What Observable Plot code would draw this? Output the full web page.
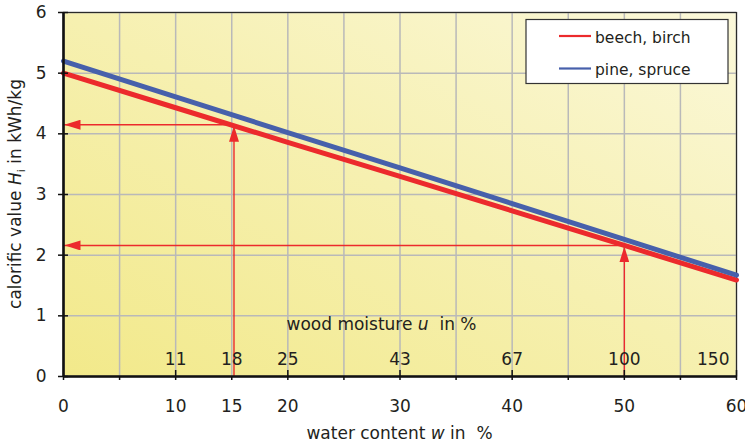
<!DOCTYPE html>
<html><head><meta charset="utf-8">
<script src="https://cdn.jsdelivr.net/npm/d3@7"></script>
<script src="https://cdn.jsdelivr.net/npm/@observablehq/plot@0.6"></script>
<style>
html,body{margin:0;padding:0;background:#fff;}
body{font-family:"DejaVu Sans",Verdana,sans-serif;}
</style>
</head><body><div id="chart"></div>
<script>
// ---- data ----
const waterContent = [0, 10, 20, 30, 40, 50, 60];
const beechBirch   = [5.00, 4.43, 3.86, 3.30, 2.73, 2.16, 1.59];
const pineSpruce   = [5.20, 4.61, 4.02, 3.44, 2.85, 2.26, 1.67];
const seriesNames  = ["beech, birch", "pine, spruce"];
const seriesColors = ["#ec2a2c", "#4760ab"];
const xTickLabels  = [0, 10, 15, 20, 30, 40, 50, 60];
const xMinorTicks  = [0, 5, 10, 15, 20, 25, 30, 35, 40, 45, 50, 55, 60];
const xMajorTicks  = [10, 20, 30, 40, 50, 60];
const yTicks       = [0, 1, 2, 3, 4, 5, 6];
const moistureAtW  = [10, 15, 20, 30, 40, 50];
const moistureText = ["11", "18", "25", "43", "67", "100"];
const moistureLastW = [60];
const moistureLastText = ["150"];
const readingW     = [15.2, 50];
const readingH     = [4.15, 2.16];

const rows = [];
waterContent.forEach((w, i) => {
  rows.push({w, h: beechBirch[i], s: seriesNames[0]});
  rows.push({w, h: pineSpruce[i], s: seriesNames[1]});
});
const readings = readingW.map((w, i) => ({w, h: readingH[i]}));
const moisture = moistureAtW.map((w, i) => ({w, t: moistureText[i]}));
const moistureLast = moistureLastW.map((w, i) => ({w, t: moistureLastText[i]}));

const FONT = "DejaVu Sans, Verdana, sans-serif";
const INK = "#231f20";
const RED = "#ec2a2c";

const plot = Plot.plot({
  width: 745,
  height: 445,
  marginLeft: 63,
  marginRight: 9,
  marginTop: 12,
  marginBottom: 69,
  style: {fontFamily: FONT, color: INK, background: "white"},
  x: {domain: [0, 60], label: null},
  y: {domain: [0, 6], label: null},
  color: {domain: seriesNames, range: seriesColors},
  marks: [
    Plot.frame({fill: "url(#bgGrad)", stroke: null}),
    Plot.gridX(xMinorTicks, {stroke: "#b9b9b9", strokeOpacity: 1, strokeWidth: 1.5}),
    Plot.gridY(yTicks, {stroke: "#b9b9b9", strokeOpacity: 1, strokeWidth: 1.5}),
    Plot.frame({stroke: "#2a2a2a", strokeWidth: 1.2}),
    Plot.link(readings, {x1: "w", y1: 0, x2: "w", y2: "h", stroke: RED, strokeWidth: 1.4}),
    Plot.link(readings, {x1: "w", y1: "h", x2: 0, y2: "h", stroke: RED, strokeWidth: 1.4}),
    Plot.line(rows, {x: "w", y: "h", z: "s", stroke: "s", strokeWidth: 5}),
    Plot.text(moisture, {x: "w", y: 0, text: "t", dy: -17, fontSize: 17, fill: INK}),
    Plot.text(moistureLast, {x: "w", y: 0, text: "t", dy: -17, dx: -7, textAnchor: "end", fontSize: 17, fill: INK}),
    Plot.ruleX([0], {stroke: "#111", strokeWidth: 2.6}),
    Plot.ruleY([0], {stroke: "#111", strokeWidth: 2.6}),
    Plot.axisX(xMinorTicks, {tickSize: 4, tickFormat: () => "", stroke: "#111", strokeWidth: 1.5, label: null}),
    Plot.axisX(xMajorTicks, {tickSize: -6, tickFormat: () => "", stroke: "#111", strokeWidth: 1.5, label: null}),
    Plot.axisX(xTickLabels, {tickSize: 0, tickPadding: 23, fontSize: 17, fill: INK, tickFormat: d => String(d), label: null}),
    Plot.axisY(yTicks, {tickSize: 5, tickPadding: 12, fontSize: 17, fill: INK, stroke: "#111", strokeWidth: 1.5, tickFormat: d => String(d), label: null}),
    Plot.axisY(yTicks, {tickSize: -5, tickFormat: () => "", stroke: "#111", strokeWidth: 1.5, label: null})
  ]
});

const svg = d3.select(plot);
const defs = svg.insert("defs", ":first-child");
const grad = defs.append("linearGradient").attr("id", "bgGrad")
  .attr("x1", 0).attr("y1", 1).attr("x2", 1).attr("y2", 0);
grad.append("stop").attr("offset", 0).attr("stop-color", "#f2e98a");
grad.append("stop").attr("offset", 0.5).attr("stop-color", "#f6f0b0");
grad.append("stop").attr("offset", 1).attr("stop-color", "#fbf8da");
defs.append("marker").attr("id", "arrowHead")
  .attr("viewBox", "0 0 16 10").attr("refX", 17).attr("refY", 5)
  .attr("markerWidth", 16).attr("markerHeight", 10)
  .attr("markerUnits", "userSpaceOnUse").attr("orient", "auto")
  .append("path").attr("d", "M0,0L16,5L0,10Z").attr("fill", RED);
svg.selectAll('g[aria-label="link"] line, g[aria-label="link"] path').attr("marker-end", "url(#arrowHead)");

const xs = plot.scale("x"), ys = plot.scale("y");
const cx = (xs.apply(0) + xs.apply(60)) / 2;
const cy = (ys.apply(0) + ys.apply(6)) / 2;

// axis titles
const xt = svg.append("text").attr("x", cx).attr("y", 439).attr("text-anchor", "middle")
  .attr("font-size", 17).attr("fill", INK).attr("font-family", FONT);
xt.append("tspan").text("water content ");
xt.append("tspan").attr("font-style", "italic").text("w");
xt.append("tspan").text(" in  %");

const ut = svg.append("text").attr("x", cx - 18).attr("y", 330).attr("text-anchor", "middle")
  .attr("font-size", 17).attr("fill", INK).attr("font-family", FONT);
ut.append("tspan").text("wood moisture ");
ut.append("tspan").attr("font-style", "italic").text("u");
ut.append("tspan").text("  in %");

const yt = svg.append("text").attr("transform", `translate(21,${cy}) rotate(-90)`)
  .attr("text-anchor", "middle").attr("font-size", 17).attr("fill", INK).attr("font-family", FONT);
yt.append("tspan").text("calorific value ");
yt.append("tspan").attr("font-style", "italic").text("H");
yt.append("tspan").attr("font-size", 11).attr("dy", 4).text("i");
yt.append("tspan").attr("dy", -4).text(" in kWh/kg");

// legend
const lg = svg.append("g").attr("font-family", FONT).attr("font-size", 15.5).attr("fill", INK)
  .attr("text-anchor", "start");
lg.append("rect").attr("x", 526).attr("y", 19.5).attr("width", 202).attr("height", 64)
  .attr("fill", "white").attr("stroke", "#333").attr("stroke-width", 1.2);
seriesNames.forEach((name, i) => {
  const y = 36 + i * 32.5;
  lg.append("line").attr("x1", 559).attr("x2", 591).attr("y1", y).attr("y2", y)
    .attr("stroke", seriesColors[i]).attr("stroke-width", 2.2);
  lg.append("text").attr("x", 595).attr("y", y + 6.5).attr("text-anchor", "start").text(name);
});

document.getElementById("chart").appendChild(plot);
</script>
</body></html>
